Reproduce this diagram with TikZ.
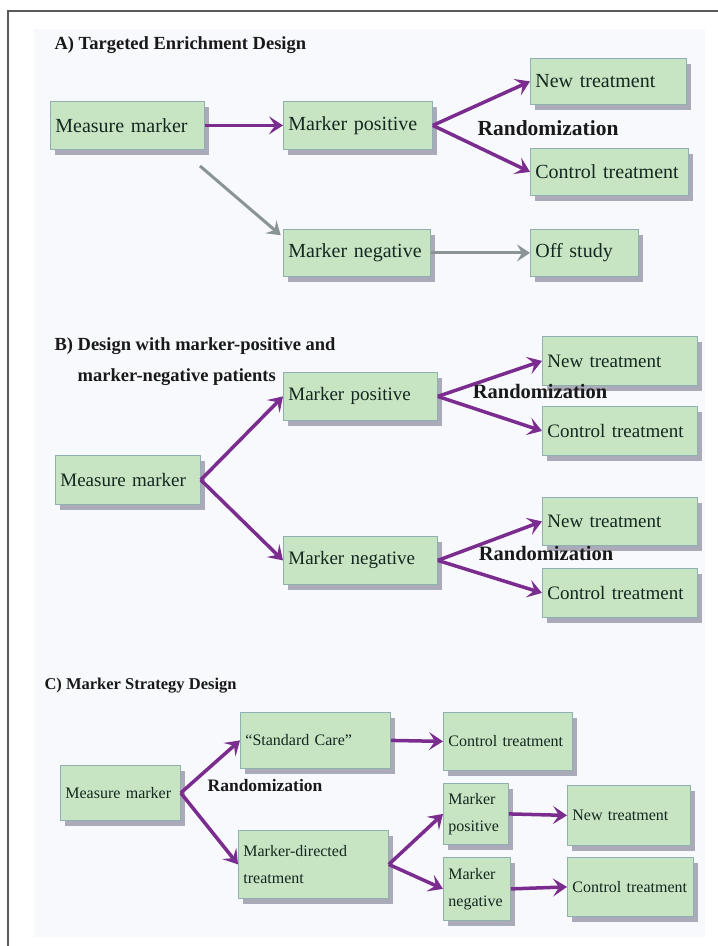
\documentclass[tikz,border=0pt]{standalone}
\usepackage{fontspec}
\setmainfont{Liberation Serif}
\usepackage{tikz}
\usetikzlibrary{arrows.meta,shadows}
\definecolor{boxfill}{HTML}{C8E5C3}
\definecolor{boxline}{HTML}{8FAFB2}
\definecolor{boxtext}{HTML}{122820}
\definecolor{shade}{HTML}{ABAAB8}
\definecolor{purp}{HTML}{7B2C8F}
\definecolor{grayarr}{HTML}{8A9396}
\definecolor{panel}{HTML}{F8F9FD}
\definecolor{framegray}{HTML}{5A5A5A}
\hyphenpenalty=10000

\begin{document}
\begin{tikzpicture}[x=1pt, y=-1pt,
  box/.style={draw=boxline, line width=0.8pt, fill=boxfill, text=boxtext,
    anchor=north west, inner xsep=5pt, inner ysep=0pt, align=left,
    drop shadow={shadow xshift=5pt, shadow yshift=-6pt, fill=shade, opacity=1}},
  fA/.style={font=\fontsize{20}{22}\selectfont},
  fB/.style={font=\fontsize{19}{21}\selectfont},
  fC/.style={font=\fontsize{16}{27}\selectfont},
  parr/.style={draw=purp, line width=3.5pt, -{Stealth[length=14pt, width=18pt, inset=6pt]}},
  garr/.style={draw=grayarr, line width=3pt, -{Stealth[length=13pt, width=17pt, inset=5pt]}},
  ttl/.style={anchor=west, text=black!90, align=left},
  rnd/.style={text=black!90}]
\useasboundingbox (0,0) rectangle (718,946);
% frame and panel
\fill[panel] (34,29) rectangle (705,937);
\draw[framegray, line width=2pt] (8,946) -- (8,11) -- (718,11);

% A) targeted enrichment
\node[ttl, font=\bfseries\fontsize{18.5}{20}\selectfont] (aT) at (51,45) {A) Targeted Enrichment Design};
\node[box, fA, text width=144pt, minimum height=48pt] (aMM) at (50,101) {Measure marker};
\node[box, fA, text width=139pt, minimum height=48pt] (aMP) at (283,101) {Marker positive};
\node[box, fA, text width=146pt, minimum height=46pt] (aNT) at (530,58) {New treatment};
\node[box, fA, text width=148pt, minimum height=47pt] (aCT) at (530,148) {Control treatment};
\node[box, fA, text width=137pt, minimum height=47pt] (aMN) at (283,229) {Marker negative};
\node[box, fA, text width=98pt, minimum height=47pt] (aOS) at (530,229) {Off study};
\node[rnd, font=\bfseries\fontsize{21.5}{23}\selectfont] (aR) at (548,128) {Randomization};
\coordinate (aGs) at (200,166);
\draw[parr] (aMM.east) -- (aMP.west);
\foreach \t in {aNT,aCT}
  \draw[parr] (aMP.east) -- (\t.west);
\draw[garr, shorten >=3pt] (aGs) -- (aMN.168);
\draw[garr] (aMN.east) -- (aOS.west);

% B) marker-positive and marker-negative
\node[ttl, font=\bfseries\fontsize{18.5}{31}\selectfont] (bT) at (51,362)
  {B) Design with marker-positive and\\\phantom{B) }marker-negative patients};
\node[box, fB, text width=135pt, minimum height=49pt] (bMM) at (55,455) {Measure marker};
\node[box, fB, text width=144pt, minimum height=48pt] (bMP) at (283,372) {Marker positive};
\node[box, fB, text width=144pt, minimum height=48pt] (bMN) at (283,536) {Marker negative};
\node[box, fB, text width=145pt, minimum height=49pt] (bNT) at (542,336) {New treatment};
\node[box, fB, text width=145pt, minimum height=49pt] (bCT) at (542,406) {Control treatment};
\node[box, fB, text width=145pt, minimum height=48pt] (bNT2) at (542,497) {New treatment};
\node[box, fB, text width=145pt, minimum height=49pt] (bCT2) at (542,568) {Control treatment};
\node[rnd, font=\bfseries\fontsize{20.5}{22}\selectfont] (bR) at (540,391) {Randomization};
\node[rnd, font=\bfseries\fontsize{20.5}{22}\selectfont] (bR2) at (546,553) {Randomization};
\foreach \t in {bMP,bMN}
  \draw[parr] (bMM.east) -- (\t.west);
\foreach \t in {bNT,bCT}
  \draw[parr] (bMP.east) -- (\t.west);
\foreach \t in {bNT2,bCT2}
  \draw[parr] (bMN.east) -- (\t.west);

% C) marker strategy
\node[ttl, font=\bfseries\fontsize{16.5}{18}\selectfont] (cT) at (41,686) {C) Marker Strategy Design};
\node[box, fC, text width=110pt, minimum height=55pt] (cMM) at (60,765) {Measure marker};
\node[box, fC, text width=140pt, minimum height=56pt] (cSC) at (240,712) {``Standard Care''};
\node[box, fC, text width=119pt, minimum height=58pt] (cCT) at (443,712) {Control treatment};
\node[box, fC, text width=140pt, minimum height=68pt] (cMD) at (238,830) {Marker-directed\\treatment};
\node[box, fC, text width=55pt, minimum height=61pt] (cMP) at (443,783) {Marker\\positive};
\node[box, fC, text width=57pt, minimum height=63pt] (cMN) at (443,857) {Marker\\negative};
\node[box, fC, text width=113pt, minimum height=60pt] (cNT) at (567,785) {New treatment};
\node[box, fC, text width=116pt, minimum height=59pt] (cCT2) at (567,857) {Control treatment};
\node[rnd, font=\bfseries\fontsize{17.5}{19}\selectfont] (cR) at (265,786) {Randomization};
\foreach \t in {cSC,cMD}
  \draw[parr] (cMM.east) -- (\t.west);
\draw[parr] (cSC.east) -- (cCT.west);
\foreach \t in {cMP,cMN}
  \draw[parr] (cMD.east) -- (\t.west);
\draw[parr] (cMP.east) -- (cNT.west);
\draw[parr] (cMN.east) -- (cCT2.west);
\end{tikzpicture}
\end{document}
